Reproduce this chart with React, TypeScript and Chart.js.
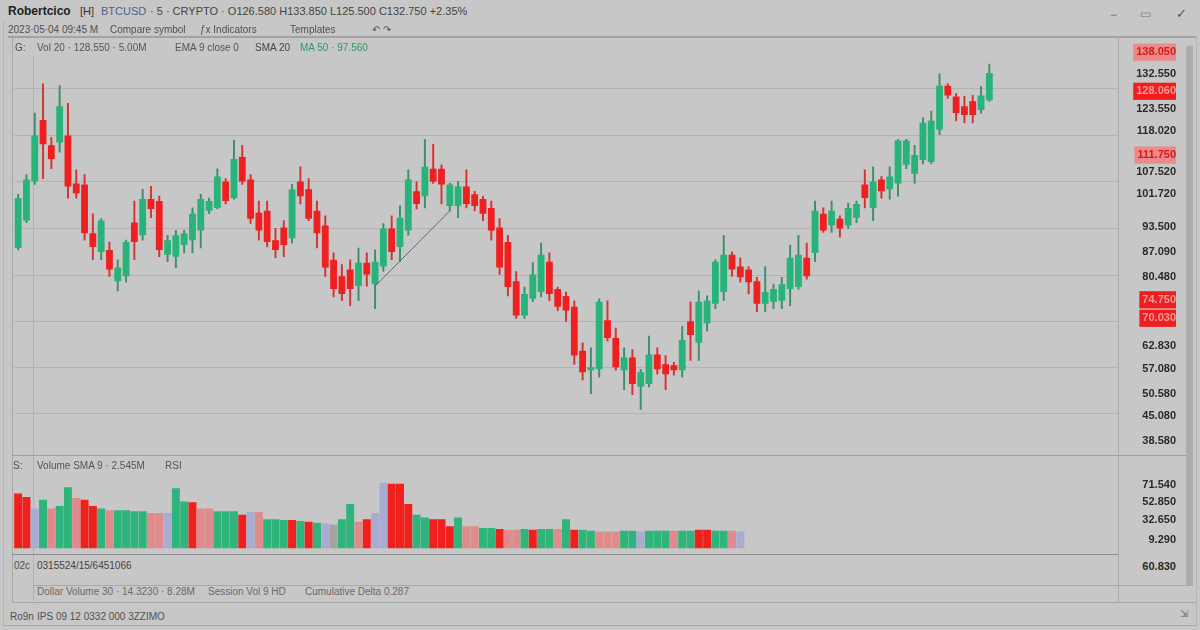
import React, { useEffect, useRef } from "react";
import { Chart, registerables } from "chart.js";

Chart.register(...registerables);

// ---------------- DATA ----------------
const SLOT_COUNT = 133;
const sessionLabels = Array.from({ length: SLOT_COUNT }, (_, i) => `S${i + 1}`);

const openPrices = [
  88, 95, 105, 120.75, 114.25, 115, 116.75, 104.5, 104.25, 91.75,
  87, 87.5, 79.5, 80.75, 94.5, 91.25, 100.5, 100, 86.25, 85.75,
  88.75, 90, 92.5, 97.5, 98.25, 105, 100.75, 111.25, 105.5, 97,
  97.5, 90, 93.25, 90.5, 105, 103, 97.5, 93.75, 85, 80.75,
  82.5, 78.25, 84.25, 78.75, 83.25, 93, 88.25, 92.5, 102.5, 101.25,
  108.25, 108.25, 98.75, 98.75, 103.75, 101.75, 100.5, 98.25, 93.25, 89.5,
  79.5, 70.75, 75, 76.75, 84.5, 77.5, 75.75, 73, 61.75, 56.75,
  57, 69.5, 65, 56.75, 60, 52.5, 53.25, 60.75, 58.25, 58,
  56.75, 69.25, 63.75, 68.75, 73.75, 76.75, 86.25, 83.25, 82.5, 79.5,
  73.75, 74.25, 74.5, 77.5, 78, 85.5, 86.75, 96.75, 93.75, 95.5,
  93.75, 95.75, 104.25, 98.25, 105.5, 103, 104.5, 109.25, 107, 110.5,
  110, 118.25, 129.5, 126.75, 124.25, 125.5, 123.25, 125.75,
];
const highPrices = [
  101.75, 106.75, 122.5, 130, 116.25, 129.5, 125, 108, 106.75, 96.75,
  95.5, 89.5, 85, 90, 100, 103, 103.75, 101.25, 91.25, 92.5,
  92.5, 98.25, 101.75, 100.75, 108.25, 105.75, 115.5, 114.25, 106.75, 100,
  100, 93, 95, 104.25, 108.75, 105.75, 100, 96.25, 86.75, 83.75,
  85, 88, 86.75, 87.5, 94.25, 96.25, 98.75, 108, 105, 115.75,
  114.5, 109.25, 104.5, 105, 108, 102.5, 101.25, 100, 95.5, 91.25,
  82, 78, 84.25, 89.25, 86.75, 78, 76.75, 74.5, 63.75, 62.5,
  75, 74.5, 67.5, 62.5, 62, 57, 65.5, 62.5, 60.5, 58.75,
  68, 74.25, 77, 75.75, 85, 91.25, 87, 85.5, 83.25, 80.5,
  83.25, 78.75, 80.5, 88.75, 91.25, 89.25, 100, 98.25, 100, 96.25,
  99.5, 100, 108, 108.75, 106.25, 108.75, 115.75, 115.75, 114.25, 121.25,
  123, 132.5, 130, 127.5, 126.75, 127, 129.25, 135,
];
const lowPrices = [
  87.5, 94.5, 104.25, 105.75, 108.25, 112.5, 100.75, 100.75, 90, 85,
  85, 80.75, 77, 79.25, 85, 90, 95.75, 85.75, 84.5, 83,
  86.75, 86.75, 88, 96.75, 98, 99.25, 100.5, 104.25, 94.25, 90,
  88.25, 85.5, 85.75, 89.25, 99.25, 95, 88, 80.75, 75.5, 74.5,
  73.25, 74.5, 78.25, 72.5, 82, 85, 84.5, 91.25, 98, 98.25,
  104.5, 99.25, 97.5, 95.75, 98.25, 97.5, 95, 90, 81.25, 75.75,
  70, 70, 74.25, 75.5, 74.5, 72, 69.25, 58.25, 54.25, 50.75,
  55, 64.25, 56.75, 51.75, 50.5, 46.75, 52.5, 55.75, 51.75, 55.5,
  55, 59.25, 59.25, 66.75, 72.5, 74.5, 80.75, 79.25, 76.25, 71.75,
  71.75, 72.5, 72.5, 73.25, 77.5, 80, 84.5, 92, 92, 90.75,
  93, 94.5, 98.25, 95, 100.75, 100.5, 101.25, 108.25, 104.5, 109.5,
  109.5, 117, 126.25, 120.5, 120, 120, 122.5, 125.5,
];
const closePrices = [
  100.75, 105.5, 116.75, 114.5, 110.75, 124.25, 103.75, 102, 91.75, 88.25,
  95, 82.5, 83, 89.5, 89.5, 100.5, 98, 87.5, 90, 91.25,
  91.75, 96.75, 100.5, 100, 106.25, 100, 110.75, 105, 95.5, 92.5,
  89.5, 87.5, 88.75, 103, 101.25, 95.5, 91.75, 83, 77.5, 76.25,
  77.5, 84.25, 81.25, 84.5, 93, 87, 95.75, 105.5, 99.25, 108.75,
  105, 104.25, 104.25, 103.75, 99.25, 98.75, 96.75, 92.5, 83, 78,
  70.75, 76.25, 81.25, 86.25, 76.25, 73, 72, 60.5, 56.25, 57.5,
  74.25, 65, 57.5, 60, 53.25, 56.25, 60.75, 57, 55.75, 56.75,
  64.5, 65.75, 74.25, 74.5, 84.5, 86.25, 82.5, 80.5, 79.25, 73.75,
  76.75, 77.5, 78.75, 85.5, 86.25, 80.75, 97.5, 92.5, 97.5, 93,
  98.25, 99.25, 100.75, 105, 102.5, 106.25, 115.5, 115.5, 111.75, 120,
  120.5, 129.5, 127, 122.5, 122, 122, 127, 132.75,
];

// thin trend line between two sessions
const trendPoints = [
  { x: "S44", y: 78.25 },
  { x: "S53", y: 97.5 },
];

const volumes = [
  62, 58, 45, 55, 45, 48, 69, 57, 55, 48,
  45, 43, 43, 43, 42, 42, 40, 40, 40, 68,
  53, 52, 45, 45, 42, 42, 42, 38, 41, 41,
  33, 33, 32, 32, 31, 30, 29, 28, 27, 33,
  50, 30, 33, 40, 74, 73, 73, 50, 38, 35,
  33, 33, 25, 35, 25, 25, 23, 23, 22, 21,
  21, 22, 21, 22, 22, 22, 33, 21, 21, 20,
  19, 19, 19, 20, 20, 19, 20, 20, 20, 20,
  20, 20, 21, 21, 20, 20, 20, 19,
];
const volumeKinds = [
  "r", "r", "l", "g", "p", "g", "g", "p", "r", "r",
  "g", "p", "g", "g", "g", "g", "p", "p", "l", "g",
  "g", "r", "p", "p", "g", "g", "g", "r", "l", "p",
  "g", "g", "g", "r", "g", "r", "g", "l", "x", "g",
  "g", "p", "r", "l", "l", "r", "r", "r", "g", "g",
  "r", "r", "r", "g", "p", "p", "g", "g", "r", "p",
  "p", "g", "r", "g", "g", "p", "g", "r", "g", "g",
  "p", "p", "p", "g", "g", "l", "g", "g", "g", "p",
  "g", "g", "r", "r", "g", "g", "p", "l",
];

const priceTickValues = [
  138.05, 132.55, 128.06, 123.55, 118.02, 111.75, 107.52, 101.72, 93.5,
  87.09, 80.48, 74.75, 70.03, 62.83, 57.08, 50.58, 45.08, 38.58,
];
const priceTickMarked = [0, 2, 5, 11, 12];
const priceTickSolid = [2, 11, 12];
const priceGridValues = [128.75, 116.75, 105, 93, 81, 69.25, 57.5, 45.75];
const volumeTickValues = [71.54, 52.85, 32.65, 9.29];

// ---------------- STYLE ----------------
const BG = "#c7c7c7";
const LINE = "#a8a8a8";
const UP = "#27b37a";
const DOWN = "#ef2020";
const UP_WICK = "#3f8e69";
const DOWN_WICK = "#d63232";
const VOL_COLORS: Record<string, string> = {
  g: "#2fb47c",
  r: "#f0201c",
  p: "#df8b8b",
  l: "#a9acd2",
  x: "#a3a3a3",
};
const TICK_FONT = { family: '"Liberation Sans", Arial, sans-serif', size: 11, weight: "bold" as const };

const PRICE_MIN = 36.25;
const PRICE_MAX = 140;

function Hl({ x, y, w, c = LINE, h = 1 }: { x: number; y: number; w: number; c?: string; h?: number }) {
  return <div style={{ position: "absolute", left: x, top: y, width: w, height: h, background: c }} />;
}
function Vl({ x, y, h, c = LINE, w = 1 }: { x: number; y: number; h: number; c?: string; w?: number }) {
  return <div style={{ position: "absolute", left: x, top: y, width: w, height: h, background: c }} />;
}
function T({
  x, y, size = 10, color = "#555", bold = false, right = false, children,
}: { x: number; y: number; size?: number; color?: string; bold?: boolean; right?: boolean; children: React.ReactNode }) {
  const st: React.CSSProperties = {
    position: "absolute", top: y, fontSize: size, color, fontWeight: bold ? 700 : 400,
    lineHeight: 1, whiteSpace: "nowrap",
  };
  if (right) st.right = 1200 - x; else st.left = x;
  return <div style={st}>{children}</div>;
}

export default function App() {
  const priceRef = useRef<HTMLCanvasElement>(null);
  const volRef = useRef<HTMLCanvasElement>(null);

  useEffect(() => {
    document.body.style.margin = "0";
    document.body.style.background = BG;

    const bodies = openPrices.map((o, i) => [o, closePrices[i]]);
    const wicks = lowPrices.map((l, i) => [l, highPrices[i]]);
    const isUp = (i: number) => closePrices[i] >= openPrices[i];

    const priceChart = new Chart(priceRef.current!, {
      type: "bar",
      data: {
        labels: sessionLabels,
        datasets: [
          {
            type: "line",
            data: trendPoints as any,
            borderColor: "#666",
            borderWidth: 1,
            pointRadius: 0,
            spanGaps: true,
            order: 0,
            yAxisID: "y",
          } as any,
          {
            type: "bar",
            data: bodies as any,
            backgroundColor: (ctx: any) => (isUp(ctx.dataIndex) ? UP : DOWN),
            grouped: false,
            barPercentage: 0.82,
            categoryPercentage: 1,
            minBarLength: 1.5,
            order: 1,
            yAxisID: "y",
          } as any,
          {
            type: "bar",
            data: wicks as any,
            backgroundColor: (ctx: any) => (isUp(ctx.dataIndex) ? UP_WICK : DOWN_WICK),
            grouped: false,
            barThickness: 1.3,
            order: 2,
            yAxisID: "y",
          } as any,
        ],
      },
      options: {
        responsive: false,
        animation: false,
        layout: { padding: { left: 14, right: 14, top: 2, bottom: 2 } },
        plugins: { legend: { display: false }, tooltip: { enabled: false } },
        scales: {
          x: { type: "category", display: false, offset: true, grid: { display: false } },
          yg: {
            position: "left",
            min: PRICE_MIN,
            max: PRICE_MAX,
            afterFit: (s: any) => { s.width = 0; },
            afterBuildTicks: (s: any) => { s.ticks = priceGridValues.map((v) => ({ value: v })); },
            ticks: { display: false },
            grid: { color: "#b3b3b3", drawTicks: false, lineWidth: 1 },
            border: { display: false },
          },
          y: {
            position: "right",
            min: PRICE_MIN,
            max: PRICE_MAX,
            afterFit: (s: any) => { s.width = 58; },
            afterBuildTicks: (s: any) => { s.ticks = priceTickValues.map((v) => ({ value: v })); },
            grid: { display: false, drawTicks: false },
            border: { display: false },
            ticks: {
              autoSkip: false,
              crossAlign: "far",
              padding: 0,
              font: TICK_FONT,
              color: (ctx: any) =>
                priceTickSolid.includes(ctx.index) ? "#ff9a9a" : priceTickMarked.includes(ctx.index) ? "#e01515" : "#2a2a2a",
              showLabelBackdrop: (ctx: any) => priceTickMarked.includes(ctx.index),
              backdropColor: (ctx: any) => (priceTickSolid.includes(ctx.index) ? "#f01e1e" : "#eb8a8a"),
              backdropPadding: { x: 3, y: 2 },
              callback: (v: any) => Number(v).toFixed(3),
            } as any,
          },
        },
      } as any,
    });

    const volChart = new Chart(volRef.current!, {
      type: "bar",
      data: {
        labels: sessionLabels,
        datasets: [
          {
            data: volumes,
            backgroundColor: (ctx: any) => VOL_COLORS[volumeKinds[ctx.dataIndex]] || VOL_COLORS.x,
            barPercentage: 0.96,
            categoryPercentage: 1,
          },
        ],
      },
      options: {
        responsive: false,
        animation: false,
        layout: { padding: { left: 14, right: 14, top: 1, bottom: 1 } },
        plugins: { legend: { display: false }, tooltip: { enabled: false } },
        scales: {
          x: { type: "category", display: false, offset: true, grid: { display: false } },
          y: {
            position: "right",
            min: 0,
            max: 98,
            afterFit: (s: any) => { s.width = 58; },
            afterBuildTicks: (s: any) => { s.ticks = volumeTickValues.map((v) => ({ value: v })); },
            grid: { display: false, drawTicks: false },
            border: { display: false },
            ticks: {
              autoSkip: false,
              crossAlign: "far",
              padding: 0,
              font: TICK_FONT,
              color: "#2a2a2a",
              callback: (v: any) => Number(v).toFixed(3),
            } as any,
          },
        },
      } as any,
    });

    return () => {
      priceChart.destroy();
      volChart.destroy();
    };
  }, []);

  return (
    <div
      style={{
        position: "relative", width: 1200, height: 630, background: BG, overflow: "hidden",
        fontFamily: '"Liberation Sans", Arial, sans-serif',
      }}
    >
      {/* frame lines */}
      <Vl x={3} y={20} h={606} c="#b5b5b5" />
      <Vl x={1196} y={36} h={590} c="#b5b5b5" />
      <Hl x={8} y={36} w={1188} c="#a2a2a2" h={2} />
      <Vl x={12} y={38} h={565} />
      <Vl x={33} y={56} h={545} c="#b0b0b0" />
      <Vl x={1118} y={38} h={565} />
      <div style={{ position: "absolute", left: 1186, top: 46, width: 7, height: 540, background: "#acacac" }} />
      <Hl x={12} y={455} w={1174} c="#a0a0a0" />
      <Hl x={12} y={554} w={1106} c="#8c8c8c" />
      <Hl x={33} y={585} w={1153} />
      <Hl x={12} y={602} w={1184} />
      <Hl x={3} y={625} w={1193} />

      <canvas ref={priceRef} width={1190} height={419} style={{ position: "absolute", left: 0, top: 38 }} />
      <canvas ref={volRef} width={1190} height={100} style={{ position: "absolute", left: 0, top: 455 }} />

      {/* header rows */}
      <T x={8} y={5} size={12} color="#222" bold>Robertcico</T>
      <T x={80} y={6} size={11} color="#333">[H]</T>
      <T x={101} y={6} size={11} color="#4a5f95">BTCUSD</T>
      <T x={150} y={6} size={11} color="#444">· 5 · CRYPTO · O126.580 H133.850 L125.500 C132.750 +2.35%</T>
      <T x={1110} y={9} size={12} color="#777">−</T>
      <T x={1140} y={8} size={12} color="#777">▭</T>
      <T x={1176} y={7} size={13} color="#555">✓</T>

      <T x={8} y={25} color="#505050">2023·05·04 09:45 M</T>
      <T x={110} y={25} color="#505050">Compare symbol</T>
      <T x={200} y={25} color="#505050">ƒx Indicators</T>
      <T x={290} y={25} color="#505050">Templates</T>
      <T x={372} y={25} color="#505050">↶ ↷</T>

      <T x={15} y={43} color="#505050">G:</T>
      <T x={37} y={43} color="#555">Vol 20 · 128.550 · 5.00M</T>
      <T x={175} y={43} color="#555">EMA 9 close 0</T>
      <T x={255} y={43} color="#444">SMA 20</T>
      <T x={300} y={43} color="#2a9a62">MA 50 · 97.560</T>

      {/* volume header */}
      <T x={13} y={461} color="#505050">S:</T>
      <T x={37} y={461} color="#555">Volume SMA 9 · 2.545M</T>
      <T x={165} y={461} color="#555">RSI</T>

      {/* bottom rows */}
      <T x={14} y={561} color="#505050">02c</T>
      <T x={37} y={561} color="#444">0315524/15/6451066</T>
      <T x={1176} y={561} size={11} color="#2a2a2a" bold right>60.830</T>
      <T x={37} y={587} color="#6a6a6a">Dollar Volume 30 · 14.3230 · 8.28M</T>
      <T x={208} y={587} color="#6a6a6a">Session Vol 9 HD</T>
      <T x={305} y={587} color="#6a6a6a">Cumulative Delta 0.287</T>
      <T x={10} y={612} color="#505050">Ro9n</T>
      <T x={37} y={612} color="#505050">IPS 09 12 0332 000 3ZZIMO</T>
      <T x={1180} y={609} size={10} color="#666">⇲</T>
    </div>
  );
}
